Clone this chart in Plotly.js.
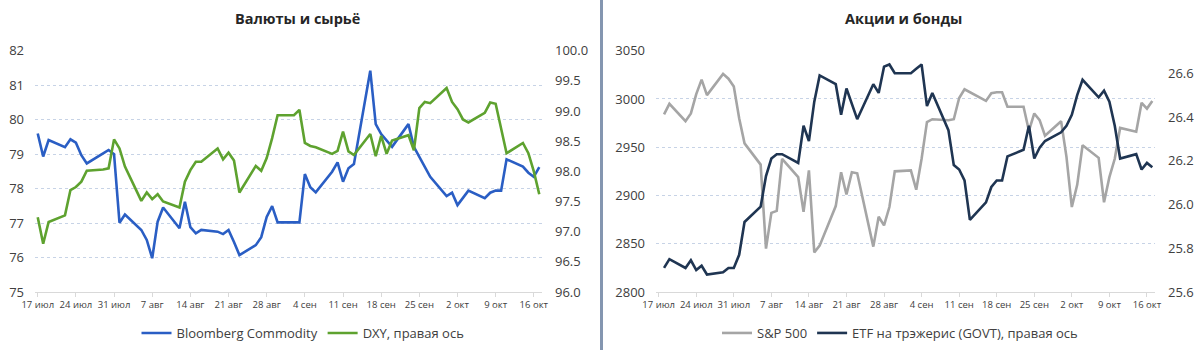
<!DOCTYPE html>
<html>
<head>
<meta charset="utf-8">
<script src="https://cdn.plot.ly/plotly-3.0.1.min.js"></script>
<style>
html, body { margin: 0; padding: 0; background: #ffffff; }
#chart { width: 1203px; height: 350px; }
</style>
</head>
<body>
<div id="chart"></div>
<script>
// ---------- data ----------
// left panel dates (weekdays)
const datesLeft = [
  "2019-07-17","2019-07-18","2019-07-19","2019-07-22","2019-07-23","2019-07-24","2019-07-25","2019-07-26","2019-07-29","2019-07-30","2019-07-31",
  "2019-08-01","2019-08-02","2019-08-05","2019-08-06","2019-08-07","2019-08-08","2019-08-09","2019-08-12","2019-08-13","2019-08-14","2019-08-15","2019-08-16","2019-08-19","2019-08-20","2019-08-21","2019-08-22","2019-08-23","2019-08-26","2019-08-27","2019-08-28","2019-08-29","2019-08-30",
  "2019-09-02","2019-09-03","2019-09-04","2019-09-05","2019-09-06","2019-09-09","2019-09-10","2019-09-11","2019-09-12","2019-09-13","2019-09-16","2019-09-17","2019-09-18","2019-09-19","2019-09-20","2019-09-23","2019-09-24","2019-09-25","2019-09-26","2019-09-27","2019-09-30",
  "2019-10-01","2019-10-02","2019-10-03","2019-10-04","2019-10-07","2019-10-08","2019-10-09","2019-10-10","2019-10-11","2019-10-14","2019-10-15","2019-10-16","2019-10-17"
];

const bloombergCommodity = [
  79.60, 78.93, 79.41, 79.20, 79.43, 79.33, 78.97, 78.73, 79.02, 79.12, 79.00,
  77.01, 77.25, 76.80, 76.51, 75.98, 77.04, 77.45, 76.85, 77.62, 76.88, 76.70, 76.80, 76.75, 76.68, 76.80, 76.45, 76.07, 76.36, 76.59, 77.18, 77.49, 77.02,
  77.02, 77.02, 78.42, 78.04, 77.89, 78.49, 78.76, 78.20, 78.59, 78.71, 81.42, 79.87, 79.58, 79.41, 79.21, 79.87, 79.21, 78.92, 78.63, 78.34, 77.78,
  77.88, 77.52, 77.73, 77.94, 77.72, 77.88, 77.94, 77.94, 78.85, 78.64, 78.46, 78.34, 78.62
];

const dxy = [
  97.24, 96.80, 97.16, 97.27, 97.69, 97.74, 97.83, 98.01, 98.03, 98.05, 98.53,
  98.38, 98.08, 97.51, 97.65, 97.54, 97.62, 97.50, 97.40, 97.83, 98.02, 98.16, 98.16, 98.38, 98.20, 98.31, 98.18, 97.65, 98.09, 98.01, 98.22, 98.55, 98.93,
  98.93, 99.02, 98.47, 98.42, 98.40, 98.29, 98.34, 98.66, 98.33, 98.27, 98.62, 98.25, 98.59, 98.29, 98.51, 98.60, 98.35, 99.05, 99.15, 99.13, 99.38,
  99.15, 99.03, 98.86, 98.81, 98.97, 99.14, 99.12, 98.70, 98.30, 98.47, 98.30, 98.00, 97.62
];

// right panel dates (weekdays, series start one day later)
const datesRight = [
  "2019-07-18","2019-07-19","2019-07-22","2019-07-23","2019-07-24","2019-07-25","2019-07-26","2019-07-29","2019-07-30","2019-07-31",
  "2019-08-01","2019-08-02","2019-08-05","2019-08-06","2019-08-07","2019-08-08","2019-08-09","2019-08-12","2019-08-13","2019-08-14","2019-08-15","2019-08-16","2019-08-19","2019-08-20","2019-08-21","2019-08-22","2019-08-23","2019-08-26","2019-08-27","2019-08-28","2019-08-29","2019-08-30",
  "2019-09-02","2019-09-03","2019-09-04","2019-09-05","2019-09-06","2019-09-09","2019-09-10","2019-09-11","2019-09-12","2019-09-13","2019-09-16","2019-09-17","2019-09-18","2019-09-19","2019-09-20","2019-09-23","2019-09-24","2019-09-25","2019-09-26","2019-09-27","2019-09-30",
  "2019-10-01","2019-10-02","2019-10-03","2019-10-04","2019-10-07","2019-10-08","2019-10-09","2019-10-10","2019-10-11","2019-10-14","2019-10-15","2019-10-16","2019-10-17"
];

const sp500 = [
  2984, 2995, 2977, 2985, 3005, 3020, 3004, 3026, 3021, 3013,
  2980, 2954, 2932, 2845, 2882, 2884, 2938, 2919, 2883, 2926, 2841, 2848, 2889, 2924, 2901, 2924, 2923, 2847, 2878, 2869, 2888, 2925,
  2926, 2906, 2938, 2976, 2979, 2978, 2979, 3001, 3010, 3007, 2998, 3006, 3007, 3007, 2992, 2992, 2967, 2985, 2978, 2962, 2977,
  2940, 2888, 2911, 2952, 2939, 2893, 2919, 2938, 2970, 2966, 2996, 2990, 2998
];

const govt = [
  25.71, 25.75, 25.71, 25.745, 25.70, 25.72, 25.68, 25.69, 25.71, 25.71,
  25.77, 25.92, 25.99, 26.13, 26.21, 26.23, 26.23, 26.19, 26.36, 26.29, 26.47, 26.59, 26.55, 26.41, 26.53, 26.46, 26.39, 26.55, 26.51, 26.63, 26.64, 26.60,
  26.60, 26.62, 26.64, 26.45, 26.51, 26.34, 26.18, 26.16, 26.11, 25.93, 26.01, 26.08, 26.11, 26.11, 26.22, 26.25, 26.36, 26.21, 26.26, 26.29, 26.33,
  26.36, 26.41, 26.50, 26.57, 26.49, 26.52, 26.47, 26.36, 26.21, 26.23, 26.16, 26.19, 26.17
];

const tickDates = ["2019-07-17","2019-07-24","2019-07-31","2019-08-07","2019-08-14","2019-08-21","2019-08-28","2019-09-04","2019-09-11","2019-09-18","2019-09-25","2019-10-02","2019-10-09","2019-10-16"];
const tickLabels = ["17 июл","24 июл","31 июл","7 авг","14 авг","21 авг","28 авг","4 сен","11 сен","18 сен","25 сен","2 окт","9 окт","16 окт"];

const leftTitle = "Валюты и сырьё";
const rightTitle = "Акции и бонды";
const seriesNames = ["Bloomberg Commodity", "DXY, правая ось", "S&P 500", "ETF на трэжерис (GOVT), правая ось"];

// ---------- styling / layout ----------
const W = 1203, H = 350;
const px = v => v / W;
const py = v => 1 - v / H;
const FONT = "Open Sans, Noto Sans, sans-serif";
const TXT = "#404040";
const GRID = "#c7d3e6";
const xRange = ["2019-07-16 12:00", "2019-10-17 12:00"];

const colors = { bcom: "#2a5ec4", dxy: "#5ea22f", spx: "#a5a5a5", govt: "#1f3552" };

const traces = [
  { x: datesLeft, y: bloombergCommodity, name: seriesNames[0], type: "scatter", mode: "lines",
    xaxis: "x", yaxis: "y", legend: "legend", line: { color: colors.bcom, width: 2.6 } },
  { x: datesLeft, y: dxy, name: seriesNames[1], type: "scatter", mode: "lines",
    xaxis: "x", yaxis: "y2", legend: "legend", line: { color: colors.dxy, width: 2.6 } },
  { x: datesRight, y: sp500, name: seriesNames[2], type: "scatter", mode: "lines",
    xaxis: "x2", yaxis: "y3", legend: "legend2", line: { color: colors.spx, width: 2.6 } },
  { x: datesRight, y: govt, name: seriesNames[3], type: "scatter", mode: "lines",
    xaxis: "x2", yaxis: "y4", legend: "legend2", line: { color: colors.govt, width: 2.6 } }
];

const yDom = [py(292), py(50.7)];

const xCommon = {
  type: "date", range: xRange, tickmode: "array", tickvals: tickDates, ticktext: tickLabels,
  showgrid: false, zeroline: false, showline: true, linecolor: "#d9d9d9", linewidth: 1,
  ticks: "outside", ticklen: 4, tickcolor: "#d9d9d9", tickwidth: 1,
  tickfont: { family: FONT, size: 9.5, color: TXT }, fixedrange: true
};

const yLeftCommon = {
  showgrid: true, gridcolor: GRID, griddash: "dot", gridwidth: 1, zeroline: false,
  showline: false, ticks: "", tickfont: { family: FONT, size: 13, color: TXT },
  ticklabelstandoff: 10, fixedrange: true
};
const yRightCommon = {
  showgrid: false, zeroline: false, showline: false, ticks: "", side: "right",
  tickfont: { family: FONT, size: 13, color: TXT }, ticklabelstandoff: 12, fixedrange: true
};

const layout = {
  width: W, height: H,
  margin: { l: 0, r: 0, t: 0, b: 0 },
  paper_bgcolor: "#ffffff", plot_bgcolor: "#ffffff",
  font: { family: FONT, color: TXT },
  hovermode: false,
  xaxis: Object.assign({}, xCommon, { domain: [px(35), px(542)], anchor: "y" }),
  yaxis: Object.assign({}, yLeftCommon, { domain: yDom, anchor: "x", range: [75, 82], dtick: 1, tick0: 75 }),
  yaxis2: Object.assign({}, yRightCommon, { overlaying: "y", anchor: "x", range: [96, 100], dtick: 0.5, tick0: 96, tickformat: ".1f" }),
  xaxis2: Object.assign({}, xCommon, { domain: [px(656), px(1155)], anchor: "y3" }),
  yaxis3: Object.assign({}, yLeftCommon, { domain: yDom, anchor: "x2", range: [2800, 3050], dtick: 50, tick0: 2800 }),
  yaxis4: Object.assign({}, yRightCommon, { overlaying: "y3", anchor: "x2", range: [25.6, 26.703], dtick: 0.2, tick0: 25.6, tickformat: ".1f" }),
  showlegend: true,
  legend: { orientation: "h", x: px(303), xanchor: "center", y: py(333), yanchor: "middle",
            font: { family: FONT, size: 13, color: TXT }, bgcolor: "rgba(0,0,0,0)", itemwidth: 30, tracegroupgap: 0 },
  legend2: { orientation: "h", x: px(900), xanchor: "center", y: py(333), yanchor: "middle",
             font: { family: FONT, size: 13, color: TXT }, bgcolor: "rgba(0,0,0,0)", itemwidth: 30, tracegroupgap: 0 },
  annotations: [
    { text: "<b>" + leftTitle + "</b>", xref: "paper", yref: "paper", x: px(297), y: py(19),
      xanchor: "center", yanchor: "middle", showarrow: false, font: { family: FONT, size: 14.5, color: "#262626" } },
    { text: "<b>" + rightTitle + "</b>", xref: "paper", yref: "paper", x: px(903), y: py(19),
      xanchor: "center", yanchor: "middle", showarrow: false, font: { family: FONT, size: 14.5, color: "#262626" } }
  ],
  shapes: [
    { type: "line", xref: "paper", yref: "paper", x0: px(601.5), x1: px(601.5), y0: 0, y1: 1,
      line: { color: "#8496b0", width: 3 } }
  ]
};

Plotly.newPlot("chart", traces, layout, { staticPlot: true, displayModeBar: false });
</script>
</body>
</html>
